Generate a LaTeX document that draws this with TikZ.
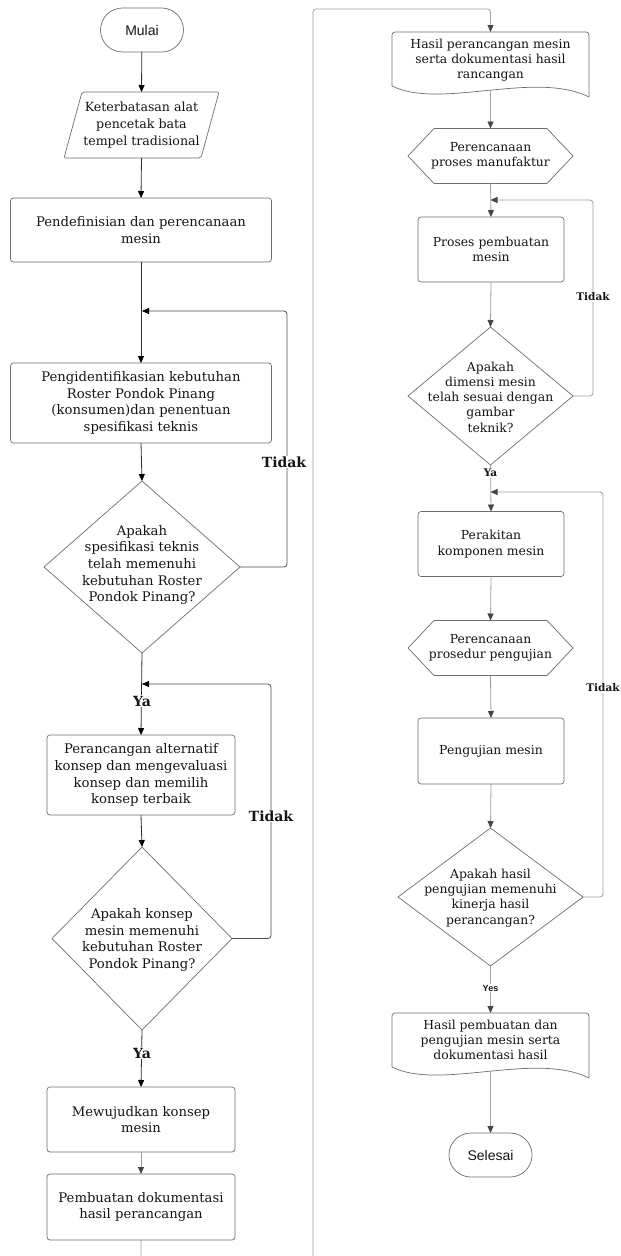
\documentclass[tikz,border=0pt]{standalone}
\usepackage{fontspec}
\setmainfont{DejaVu Serif}
\newfontfamily\lsans{Liberation Sans}
\usetikzlibrary{arrows.meta,shapes.geometric}
\definecolor{bordc}{HTML}{6E6E6E}
\definecolor{darkl}{HTML}{2E2E2E}
\definecolor{grayl}{HTML}{A0A0A0}
\definecolor{headc}{HTML}{3E4753}
\definecolor{txtc}{HTML}{151515}
\begin{document}
\begin{tikzpicture}[x=1pt,y=-1pt,
  every node/.style={inner sep=0pt, outer sep=0pt, text=txtc},
  shapeline/.style={draw=bordc, line width=0.7pt},
  box/.style={shapeline, rounded corners=3pt, rectangle, align=center},
  ltxt/.style={font=\fontsize{13.2}{16.7}\selectfont, align=center},
  rtxt/.style={font=\fontsize{12.4}{15.2}\selectfont, align=center},
  term/.style={shapeline, rectangle, rounded corners=21.9pt, minimum width=83pt, minimum height=44pt, font=\lsans\fontsize{14}{16}\selectfont},
  dia/.style={shapeline, diamond},
  larr/.style={draw=darkl, line width=0.8pt, -{Triangle[length=7pt,width=6pt,color=black]}},
  rarr/.style={draw=grayl, line width=0.8pt, -{Triangle[length=7pt,width=6pt,color=headc]}},
  lloop/.style={draw=darkl!85, line width=0.8pt, rounded corners=3pt, -{Triangle[length=7pt,width=6pt,color=black]}},
  rloop/.style={draw=grayl, line width=0.8pt, rounded corners=3pt, -{Triangle[length=7pt,width=6pt,color=headc]}},
  lbl/.style={fill=white, inner sep=1pt, font=\bfseries\fontsize{14}{15}\selectfont},
  slbl/.style={fill=white, inner sep=1pt, font=\bfseries\fontsize{10.5}{11}\selectfont},
  ylbl/.style={fill=white, inner sep=1pt, font=\lsans\bfseries\fontsize{9}{10}\selectfont}
]
\useasboundingbox (0,0) rectangle (621,1256);
\fill[white] (0,0) rectangle (621,1256);

% ---------------- left column ----------------
\node[term] (mulai) at (142,30) {Mulai};
\node[ltxt, font=\fontsize{12.6}{16.7}\selectfont, minimum width=137pt, minimum height=66pt] (ket) at (141.5,125) {Keterbatasan alat\\pencetak bata\\tempel tradisional};
\draw[shapeline, rounded corners=2pt] ([xshift=-9pt]ket.south west) -- ([xshift=9pt]ket.north west) -- ([xshift=9pt]ket.north east) -- ([xshift=-9pt]ket.south east) -- cycle;
\node[box, ltxt, minimum width=261pt, minimum height=64pt] (pend) at (141,230) {Pendefinisian dan perencanaan\\mesin};
\node[box, ltxt, minimum width=261pt, minimum height=80pt] (peng) at (141,403) {Pengidentifikasian kebutuhan\\Roster Pondok Pinang\\(konsumen)dan penentuan\\spesifikasi teknis};
\node[dia, minimum width=196pt, minimum height=172pt] (d1) at (142,567) {};
\node[ltxt] (d1t) at (142,565) {Apakah\\spesifikasi teknis\\telah memenuhi\\kebutuhan Roster\\Pondok Pinang?};
\node[box, ltxt, minimum width=188pt, minimum height=80pt] (peranc) at (141,775) {Perancangan alternatif\\konsep dan mengevaluasi\\konsep dan memilih\\konsep terbaik};
\node[dia, minimum width=180pt, minimum height=183pt] (d2) at (142,938.5) {};
\node[ltxt] (d2t) at (142,940) {Apakah konsep\\mesin memenuhi\\kebutuhan Roster\\Pondok Pinang?};
\node[box, ltxt, minimum width=188pt, minimum height=65pt] (mew) at (141,1119.5) {Mewujudkan konsep\\mesin};
\node[box, ltxt, minimum width=188pt, minimum height=66pt] (pemb) at (141,1207) {Pembuatan dokumentasi\\hasil perancangan};

\coordinate (cA) at (287,311);
\coordinate (jA) at (142,311);
\coordinate (cB) at (271,684);
\coordinate (jB) at (142,684);

\draw[larr] (mulai) -- (ket.north);
\draw[larr] (ket.south) -- (pend.north);
\draw[larr] (pend.south) -- (peng.north);
\draw[larr] (peng.south) -- (d1.north);
\draw[lloop] (d1.east) -| (cA) -- (jA);
\node[lbl] (tA) at (284,462) {Tidak};
\draw[larr] (d1.south) -- (peranc.north);
\node[lbl] (yA) at (142,701) {Ya};
\draw[larr] (peranc.south) -- (d2.north);
\draw[lloop] (d2.east) -| (cB) -- (jB);
\node[lbl] (tB) at (271,816) {Tidak};
\draw[larr] (d2.south) -- (mew.north);
\node[lbl] (yB) at (142,1053) {Ya};
\draw[rarr] (mew.south) -- (pemb.north);

% ---------------- right column ----------------
\node[minimum width=197pt, minimum height=65pt] (doc1) at (490.5,64.5) {};
\node[rtxt] (doc1t) at (490.5,60) {Hasil perancangan mesin\\serta dokumentasi hasil\\rancangan};
\draw[shapeline, rounded corners=3pt] (392,86) -- (392,32) -- (589,32) -- (589,97);
\draw[shapeline] (392,86) .. controls (440,110) and (535,70) .. (589,97);
\coordinate (doc1b) at (490.5,90);

\node[rtxt, minimum width=165pt, minimum height=55pt] (hex1) at (490.5,156) {Perencanaan\\proses manufaktur};
\draw[shapeline] (408,156) -- (434,128.5) -- (547,128.5) -- (573,156) -- (547,183.5) -- (434,183.5) -- cycle;

\node[box, rtxt, minimum width=146pt, minimum height=65pt] (proses) at (491,249.5) {Proses pembuatan\\mesin};
\node[dia, minimum width=165pt, minimum height=138pt] (d3) at (490.5,396) {};
\node[rtxt] (d3t) at (490.5,397) {Apakah\\dimensi mesin\\telah sesuai dengan\\gambar\\teknik?};
\node[box, rtxt, minimum width=146pt, minimum height=65pt] (perak) at (491,544) {Perakitan\\komponen mesin};

\node[rtxt, minimum width=165pt, minimum height=55pt] (hex2) at (490.5,648) {Perencanaan\\prosedur pengujian};
\draw[shapeline] (408,648) -- (434,620.5) -- (547,620.5) -- (573,648) -- (547,675.5) -- (434,675.5) -- cycle;

\node[box, rtxt, minimum width=146pt, minimum height=66pt] (uji) at (491,751) {Pengujian mesin};
\node[dia, minimum width=185pt, minimum height=138pt] (d4) at (490.5,897) {};
\node[rtxt] (d4t) at (490.5,898) {Apakah hasil\\pengujian memenuhi\\kinerja hasil\\perancangan?};

\node[minimum width=197pt, minimum height=66pt] (doc2) at (490.5,1046) {};
\node[rtxt] (doc2t) at (490.5,1040) {Hasil pembuatan dan\\pengujian mesin serta\\dokumentasi hasil};
\draw[shapeline, rounded corners=3pt] (392,1067) -- (392,1013) -- (589,1013) -- (589,1078);
\draw[shapeline] (392,1067) .. controls (440,1091) and (535,1051) .. (589,1078);
\coordinate (doc2b) at (490.5,1071);

\node[term] (selesai) at (490.5,1155) {Selesai};

\coordinate (cC) at (593,200);
\coordinate (jC) at (490.5,200);
\coordinate (cD) at (603,492);
\coordinate (jD) at (490.5,492);

\draw[rarr] (doc1b) -- (hex1.north);
\draw[rarr] (hex1.south) -- (proses.north);
\draw[rarr] (proses.south) -- (d3.north);
\draw[rloop] (d3.east) -| (cC) -- (jC);
\node[slbl] (tC) at (593,297) {Tidak};
\draw[rarr] (d3.south) -- (perak.north);
\node[slbl] (yC) at (490.5,473) {Ya};
\draw[rarr] (perak.south) -- (hex2.north);
\draw[rarr] (hex2.south) -- (uji.north);
\draw[rarr] (uji.south) -- (d4.north);
\draw[rloop] (d4.east) -| (cD) -- (jD);
\node[slbl] (tD) at (603,688) {Tidak};
\draw[rarr] (d4.south) -- (doc2.north);
\node[ylbl] (yD) at (490.5,988) {Yes};
\draw[rarr] (doc2b) -- (selesai.north);

% long connector from the left column to the right column
\coordinate (loopb) at (141,1275);
\coordinate (loopt) at (313,9);
\begin{scope}
\clip (0,0) rectangle (621,1256);
\draw[rloop] (pemb.south) -- (loopb) -| (loopt) -| (doc1.north);
\end{scope}
\end{tikzpicture}
\end{document}
